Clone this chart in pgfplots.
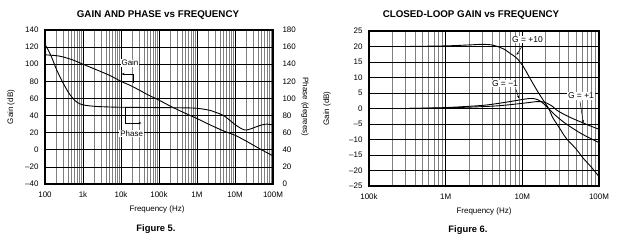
\documentclass[border=0pt]{standalone}
\usepackage{pgfplots}
\pgfplotsset{compat=1.18}
\usepackage{fontspec}
\setmainfont{Liberation Sans}
\usetikzlibrary{arrows.meta}
\begin{document}
\begin{tikzpicture}[x=1bp,y=1bp]
\useasboundingbox (0,0) rectangle (620,240);
\pgfplotsset{
  mystyle/.style={scale only axis, anchor=south west,
    grid=both,
    major grid style={black, line width=0.6pt},
    minor grid style={black!50, line width=0.4pt},
    axis line style={line width=1.2pt},
    tick style={draw=none},
    ticklabel style={font=\fontsize{8}{9}\selectfont},
    /pgf/number format/assume math mode=true},
  curve/.style={black, line width=0.9pt, smooth, mark=none}
}
% ---------------- Figure 5 ----------------
\begin{axis}[xmode=log, mystyle, at={(45bp,56bp)}, width=228bp, height=154bp,
  xmin=1e2, xmax=1e8, ymin=-40, ymax=140,
  xtick={1e2,1e3,1e4,1e5,1e6,1e7,1e8},
  xticklabels={100,1k,10k,100k,1M,10M,100M},
  minor xtick={2e2,3e2,4e2,5e2,6e2,7e2,8e2,9e2,2e3,3e3,4e3,5e3,6e3,7e3,8e3,9e3,
    2e4,3e4,4e4,5e4,6e4,7e4,8e4,9e4,2e5,3e5,4e5,5e5,6e5,7e5,8e5,9e5,
    2e6,3e6,4e6,5e6,6e6,7e6,8e6,9e6,2e7,3e7,4e7,5e7,6e7,7e7,8e7,9e7},
  ytick={-40,-20,0,20,40,60,80,100,120,140},
  yticklabels={–40,–20,0,20,40,60,80,100,120,140},
  yticklabel style={xshift=-3bp},
  xticklabel style={yshift=-4bp}]
% Gain (dB)
\addplot[curve] coordinates {
 (1e2,111) (2e2,110) (3e2,108.5) (5e2,105.5) (7e2,103) (1e3,100)
 (2e3,94.5) (5e3,87) (1e4,80) (2e4,74) (5e4,64.5) (1e5,58) (2e5,51)
 (5e5,42.5) (1e6,36.5) (2e6,30) (5e6,22) (1e7,17) (2e7,10) (3e7,5.5)
 (5e7,0) (7e7,-3.5) (1e8,-7)};
\end{axis}
\begin{axis}[xmode=log, scale only axis, anchor=south west, at={(45bp,56bp)},
  width=228bp, height=154bp, xmin=1e2, xmax=1e8,
  ymin=0, ymax=180, axis x line=none, axis y line*=right,
  ytick={0,20,...,180}, tick style={draw=none},
  axis line style={line width=1.2pt},
  ticklabel style={font=\fontsize{8}{9}\selectfont},
  /pgf/number format/assume math mode=true,
  yticklabel style={xshift=6bp}]
% Phase (degrees)
\addplot[curve] coordinates {
 (1e2,163) (1.2e2,157) (1.5e2,148) (2e2,134) (2.5e2,125) (3e2,118)
 (4e2,108) (5e2,102) (7e2,95.5) (1e3,92.5) (2e3,90.8) (5e3,90)
 (1e4,89.7) (1e5,89.3) (5e5,89) (1e6,88.5) (2e6,86.5) (3e6,84)
 (5e6,80) (8e6,73) (1e7,69.5) (1.5e7,64.5) (2e7,63) (3e7,65.5)
 (5e7,69) (7e7,70) (1e8,69)};
\end{axis}
% ---------------- Figure 6 ----------------
\begin{axis}[xmode=log, mystyle, at={(369bp,54bp)}, width=230bp, height=155bp,
  xmin=1e5, xmax=1e8, ymin=-25, ymax=25,
  xtick={1e5,1e6,1e7,1e8},
  xticklabels={100k,1M,10M,100M},
  minor xtick={2e5,3e5,4e5,5e5,6e5,7e5,8e5,9e5,2e6,3e6,4e6,5e6,6e6,7e6,8e6,9e6,
    2e7,3e7,4e7,5e7,6e7,7e7,8e7,9e7},
  ytick={-25,-20,-15,-10,-5,0,5,10,15,20,25},
  yticklabels={–25,–20,–15,–10,–5,0,5,10,15,20,25},
  yticklabel style={xshift=-3bp},
  xticklabel style={yshift=-4bp}]
% G = +10
\addplot[curve] coordinates {
 (3e5,20) (1e6,20.2) (2e6,20.5) (3e6,20.7) (4e6,20.5) (5e6,19.8)
 (6e6,18.9) (7e6,17.7) (8.4e6,16.3) (1.03e7,13.5) (1.26e7,9.7)
 (1.54e7,6) (1.87e7,2.7) (2.2e7,0) (2.5e7,-3) (3e7,-6) (3.7e7,-9.5)
 (5e7,-13) (6.2e7,-16) (8e7,-19) (1e8,-22)};
% G = -1
\addplot[curve] coordinates {
 (3e5,0) (1e6,0.3) (3e6,1) (5e6,1.7) (8e6,2.5) (1e7,2.9) (1.2e7,3.2)
 (1.4e7,3.2) (1.6e7,2.8) (1.8e7,2) (2e7,1) (2.3e7,-0.5) (2.7e7,-2.2)
 (3.3e7,-4) (4e7,-5.5) (5.6e7,-7.8) (7.5e7,-9.5) (1e8,-11)};
% G = +1
\addplot[curve] coordinates {
 (3e5,0) (1e6,0.2) (3e6,0.6) (5e6,0.9) (8e6,1.4) (1.2e7,1.9)
 (1.5e7,2.2) (1.8e7,2.2) (2.1e7,1.7) (2.5e7,0.6) (2.8e7,-0.5)
 (3.5e7,-1.9) (4.5e7,-3.2) (5.6e7,-4.2) (7.5e7,-5.5) (1e8,-6.7)};
\end{axis}
% ---------------- texts ----------------
\node[font=\bfseries\fontsize{9.8}{11}\selectfont] at (158,225) {GAIN AND PHASE vs FREQUENCY};
\node[font=\bfseries\fontsize{9.8}{11}\selectfont] at (471,225) {CLOSED-LOOP GAIN vs FREQUENCY};
\node[font=\fontsize{8}{9}\selectfont] at (157,31) {Frequency (Hz)};
\node[font=\fontsize{8}{9}\selectfont] at (484,29) {Frequency (Hz)};
\node[font=\bfseries\fontsize{9.4}{10}\selectfont] at (156,11) {Figure 5.};
\node[font=\bfseries\fontsize{9.4}{10}\selectfont] at (468,10) {Figure 6.};
\node[font=\fontsize{8}{9}\selectfont, rotate=90] at (11,133) {Gain (dB)};
\node[font=\fontsize{8}{9}\selectfont, rotate=-90] at (305,133) {Phase (degrees)};
\node[font=\fontsize{8}{9}\selectfont, rotate=90] at (327,131.5) {Gain (dB)};
% annotations figure 5
\draw[line width=0.5pt, -{Stealth[length=3bp,width=2.2bp]}] (133,157) -- (133,166) -- (121.5,166);
\node[font=\fontsize{8}{9}\selectfont, fill=white, inner sep=1bp] at (130,177) {Gain};
\draw[line width=0.5pt, -{Stealth[length=3bp,width=2.2bp]}] (125,132) -- (125,117) -- (141.5,117);
\node[font=\fontsize{8}{9}\selectfont, fill=white, inner sep=1bp] at (131.7,106.5) {Phase};
% annotations figure 6
\node[font=\fontsize{8.5}{9}\selectfont, fill=white, inner sep=1bp] at (527.5,200.5) {G = +10};
\draw[line width=0.5pt, -{Stealth[length=3bp,width=2.2bp]}] (523,195.5) -- (516.5,185);
\node[font=\fontsize{8.5}{9}\selectfont, fill=white, inner sep=1bp] at (505,156.5) {G = −1};
\draw[line width=0.5pt, -{Stealth[length=3bp,width=2.2bp]}] (516,150.5) -- (519,141.5);
\node[font=\fontsize{8.5}{9}\selectfont, fill=white, inner sep=1bp] at (581,144) {G = +1};
\draw[line width=0.5pt, -{Stealth[length=3bp,width=2.2bp]}] (580,138.5) -- (583.3,117);
\end{tikzpicture}
\end{document}
